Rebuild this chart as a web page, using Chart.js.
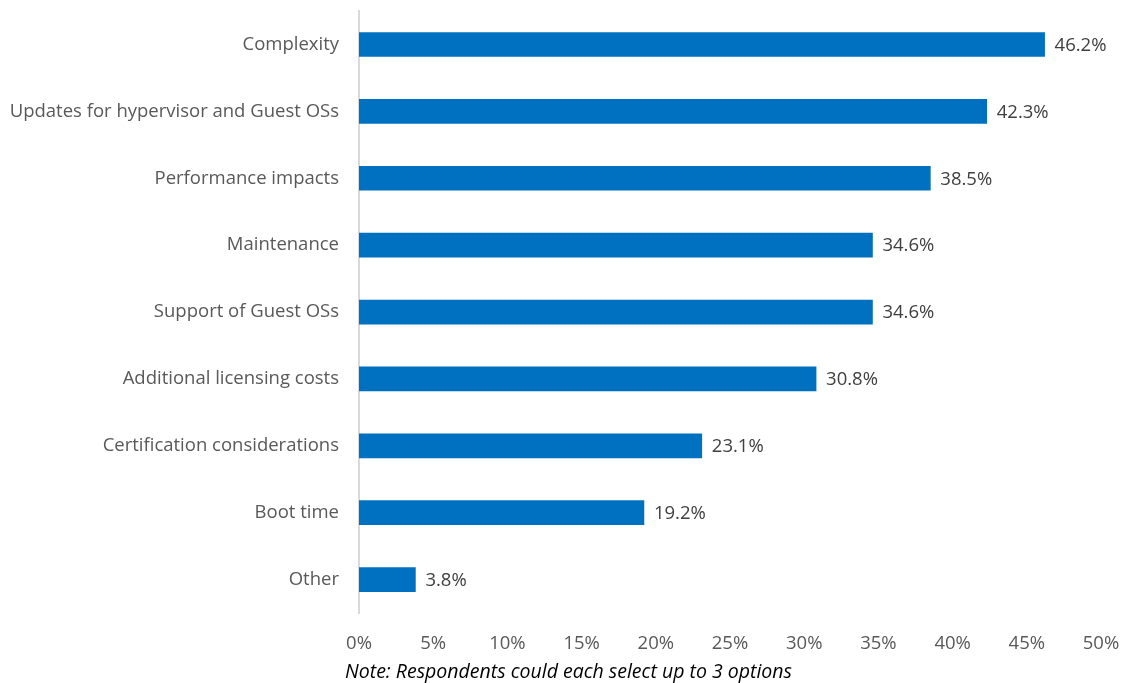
<!DOCTYPE html>
<html>
<head>
<meta charset="utf-8">
<script src="https://cdn.jsdelivr.net/npm/chart.js@4"></script>
<style>
  html, body { margin: 0; padding: 0; background: #fff; }
  .wrap { position: relative; width: 1124px; height: 683px; }
  #note {
    position: absolute; left: 345px; top: 657px;
    font: italic 19.5px "Open Sans", sans-serif; color: #000;
    white-space: nowrap;
  }
</style>
</head>
<body>
<div class="wrap">
  <canvas id="chart" width="1124" height="683"></canvas>
  <div id="note">Note: Respondents could each select up to 3 options</div>
</div>
<script>
const categories = [
  'Complexity',
  'Updates for hypervisor and Guest OSs',
  'Performance impacts',
  'Maintenance',
  'Support of Guest OSs',
  'Additional licensing costs',
  'Certification considerations',
  'Boot time',
  'Other'
];
const values = [46.2, 42.3, 38.5, 34.6, 34.6, 30.8, 23.1, 19.2, 3.8];
const xTicks = [0, 5, 10, 15, 20, 25, 30, 35, 40, 45, 50];

const FONT = '"Open Sans", sans-serif';
const TXT = '#595959';

// etiquetas al final de cada barra
const valueLabels = {
  id: 'valueLabels',
  afterDatasetsDraw(chart) {
    const ctx = chart.ctx;
    const meta = chart.getDatasetMeta(0);
    ctx.save();
    ctx.font = '18.5px ' + FONT;
    ctx.fillStyle = '#404040';
    ctx.textAlign = 'left';
    ctx.textBaseline = 'middle';
    meta.data.forEach((bar, i) => {
      ctx.fillText(values[i].toFixed(1) + '%', bar.x + 10, bar.y + 1);
    });
    ctx.restore();
  }
};

new Chart(document.getElementById('chart'), {
  type: 'bar',
  data: {
    labels: categories,
    datasets: [{
      data: values,
      backgroundColor: '#0070C0',
      barThickness: 24
    }]
  },
  options: {
    indexAxis: 'y',
    responsive: false,
    animation: false,
    layout: { padding: { top: 9, right: 23, bottom: 0, left: 0 } },
    plugins: { legend: { display: false }, tooltip: { enabled: false } },
    scales: {
      x: {
        min: 0, max: 50,
        afterBuildTicks: s => { s.ticks = xTicks.map(v => ({ value: v })); },
        afterFit: s => { s.height = 70; },
        grid: { display: false, drawTicks: true, tickLength: 20, tickColor: 'rgba(0,0,0,0)' },
        border: { display: false },
        ticks: {
          padding: 0,
          color: TXT,
          font: { family: FONT, size: 18.5 },
          callback: v => v + '%',
          maxRotation: 0
        }
      },
      y: {
        afterFit: s => { s.width = 359; },
        grid: { display: false, drawTicks: true, tickLength: 20, tickColor: 'rgba(0,0,0,0)' },
        border: { display: true, color: '#d9d9d9', width: 2 },
        ticks: {
          padding: 0,
          color: TXT,
          font: { family: FONT, size: 18.5 }
        }
      }
    }
  },
  plugins: [valueLabels]
});
</script>
</body>
</html>
